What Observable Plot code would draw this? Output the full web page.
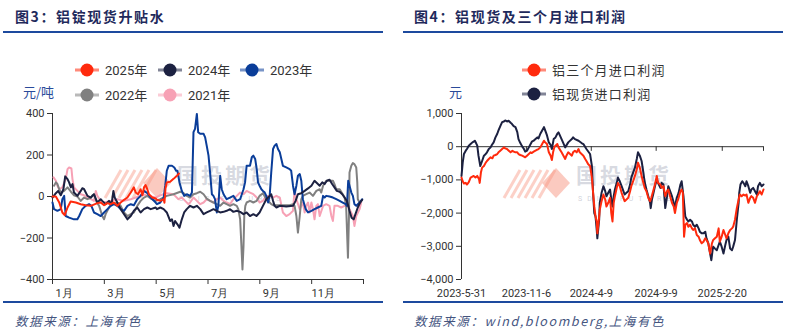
<!DOCTYPE html>
<html><head><meta charset="utf-8">
<script src="https://cdn.jsdelivr.net/npm/d3@7"></script>
<script src="https://cdn.jsdelivr.net/npm/@observablehq/plot@0.6"></script>
<style>
body{margin:0;background:#fff;}
#wrap{position:relative;width:792px;height:332px;overflow:hidden;font-family:"Noto Sans CJK SC",sans-serif;}
.abs{position:absolute;white-space:nowrap;}
.title{font-weight:bold;font-size:14px;letter-spacing:1.6px;color:#1f2a5c;top:6px;}
.hr{position:absolute;height:2px;background:#1d4a9e;}
.cap{font-style:italic;font-size:12.5px;letter-spacing:1.6px;color:#45557f;top:311px;}
.unit{font-size:13px;color:#2a4a9a;top:82px;}
.wm{font-size:21px;line-height:21px;height:21px;letter-spacing:3px;font-weight:bold;color:rgba(160,166,182,0.42);top:164px;}
.wm2{font-size:7px;line-height:7px;height:7px;letter-spacing:5px;color:rgba(160,166,182,0.5);top:196px;font-family:Roboto,sans-serif;}
svg.plot{position:absolute;top:0;}
</style></head>
<body><div id="wrap"></div>
<script>
// ---------- Left chart: 铝锭现货升贴水 (x = months since 1 Jan, y = 元/吨) ----------
const monthLabels = ["1月","3月","5月","7月","9月","11月"];
const leftYTicks = [-400,-200,0,200,400];
const seriesNames = ["2025年","2024年","2023年","2022年","2021年"];
const s2025 = [[0,0],[0.13,0],[0.26,-29],[0.38,-77],[0.47,-90],[0.58,-53],[0.70,-24],[0.90,-29],[1.09,-37],[1.28,-42],[1.48,-45],[1.73,-32],[1.86,-29],[1.99,-42],[2.12,-32],[2.24,-37],[2.37,-29],[2.50,-45],[2.63,-29],[2.76,-16],[2.89,-5],[3.02,19],[3.14,44],[3.21,19],[3.30,11],[3.40,35],[3.47,6],[3.53,44],[3.59,55],[3.66,35],[3.72,11],[3.85,-5],[3.98,-10],[4.03,-16],[4.16,-21],[4.29,-13],[4.32,-30],[4.36,40],[4.41,68],[4.54,71],[4.67,85],[4.80,100],[4.88,111]];
const s2024 = [[0,-5],[0.13,16],[0.22,27],[0.32,6],[0.42,35],[0.49,97],[0.58,84],[0.64,68],[0.71,44],[0.77,60],[0.83,19],[0.96,3],[1.09,27],[1.15,40],[1.22,35],[1.35,3],[1.48,-5],[1.60,11],[1.73,-29],[1.86,-13],[1.92,-21],[2.05,-37],[2.18,-21],[2.28,-37],[2.35,27],[2.40,-5],[2.50,-29],[2.63,-61],[2.76,-85],[2.89,-110],[3.02,-94],[3.14,-69],[3.27,-53],[3.40,-77],[3.53,-61],[3.66,-53],[3.79,-61],[3.98,-53],[4.03,-61],[4.16,-53],[4.29,-61],[4.41,-77],[4.54,-118],[4.61,-110],[4.67,-142],[4.73,-118],[4.82,-134],[4.90,-150],[4.99,-110],[5.08,-77],[5.18,-61],[5.31,-45],[5.44,-53],[5.57,-45],[5.70,-61],[5.83,-85],[5.95,-77],[6.08,-69],[6.21,-61],[6.34,-69],[6.47,-77],[6.60,-74],[6.72,-69],[6.85,-61],[6.98,-74],[7.11,-69],[7.24,-74],[7.37,-85],[7.49,-77],[7.62,-94],[7.75,-85],[7.87,-94],[7.99,-77],[8.12,-45],[8.25,-13],[8.38,3],[8.44,11],[8.51,-21],[8.57,-45],[8.64,-53],[8.77,-45],[9.02,-48],[9.28,-45],[9.38,-21],[9.47,11],[9.60,16],[9.73,27],[9.86,39],[9.99,52],[10.11,76],[10.20,65],[10.31,52],[10.41,68],[10.50,60],[10.59,76],[10.69,81],[10.79,60],[10.88,44],[10.97,27],[11.08,23],[11.18,11],[11.27,-5],[11.36,-21],[11.46,-69],[11.54,-102],[11.62,-110],[11.69,-85],[11.78,-53],[11.87,-29],[11.95,-16]];
const s2023 = [[0,-29],[0.06,-61],[0.19,-69],[0.32,-61],[0.38,-13],[0.45,3],[0.51,-94],[0.64,-102],[0.83,-110],[0.96,-110],[1.03,-94],[1.15,-61],[1.28,-45],[1.41,-37],[1.50,-45],[1.60,-77],[1.73,-85],[1.86,-94],[1.99,-77],[2.12,-61],[2.25,-45],[2.37,-37],[2.50,-45],[2.63,-61],[2.76,-69],[2.89,-45],[3.02,-37],[3.14,-42],[3.27,-13],[3.40,3],[3.53,27],[3.66,16],[3.79,-5],[3.98,-29],[4.03,-37],[4.16,-29],[4.29,-5],[4.35,52],[4.41,124],[4.48,148],[4.61,148],[4.70,140],[4.77,124],[4.82,124],[4.90,68],[4.99,27],[5.08,3],[5.18,11],[5.31,3],[5.38,19],[5.44,310],[5.50,326],[5.57,398],[5.62,310],[5.70,302],[5.83,302],[5.89,285],[5.95,245],[6.02,197],[6.08,116],[6.15,11],[6.21,3],[6.27,-13],[6.34,-77],[6.40,-45],[6.47,100],[6.53,35],[6.60,11],[6.72,-13],[6.85,-5],[6.98,3],[7.11,-21],[7.24,-13],[7.37,35],[7.43,68],[7.49,148],[7.62,148],[7.69,189],[7.75,197],[7.82,181],[7.88,132],[7.93,68],[7.99,52],[8.06,35],[8.12,27],[8.19,19],[8.25,3],[8.32,-29],[8.38,3],[8.44,116],[8.51,229],[8.57,245],[8.64,253],[8.70,229],[8.77,213],[8.83,181],[8.89,148],[9.02,140],[9.15,132],[9.21,124],[9.28,52],[9.34,11],[9.41,52],[9.47,100],[9.54,108],[9.60,76],[9.66,-13],[9.77,-61],[9.86,-77],[9.99,-69],[10.11,-61],[10.24,-53],[10.37,-45],[10.44,3],[10.50,-5],[10.56,3],[10.69,0],[10.82,-5],[10.95,-13],[11.08,-21],[11.20,-29],[11.31,-37],[11.36,-45],[11.41,76],[11.46,52],[11.53,19],[11.59,3],[11.65,-37],[11.72,-45],[11.85,-29],[11.95,-13]];
const s2022 = [[0.06,52],[0.13,68],[0.19,60],[0.26,35],[0.32,19],[0.45,27],[0.58,44],[0.71,23],[0.83,6],[0.96,0],[1.09,-21],[1.22,-5],[1.35,-13],[1.48,-5],[1.54,6],[1.60,11],[1.71,-29],[1.80,-45],[1.92,-94],[1.99,-110],[2.05,-85],[2.18,-53],[2.31,-29],[2.37,-37],[2.50,-29],[2.63,-45],[2.76,-77],[2.89,-94],[3.02,-85],[3.14,-77],[3.27,-45],[3.40,-21],[3.53,-5],[3.66,3],[3.79,-10],[3.98,-21],[4.16,-13],[4.41,3],[4.67,11],[4.93,23],[5.06,16],[5.18,3],[5.31,-5],[5.44,11],[5.57,16],[5.70,23],[5.83,11],[5.95,-10],[6.08,-21],[6.21,-29],[6.34,-37],[6.47,-45],[6.60,-29],[6.72,-37],[6.85,-45],[6.98,-37],[7.11,-45],[7.17,-61],[7.24,-110],[7.29,-239],[7.33,-352],[7.37,-239],[7.40,-94],[7.44,-45],[7.49,-29],[7.62,-21],[7.75,-29],[7.88,-21],[7.99,3],[8.12,16],[8.25,-13],[8.38,-29],[8.44,-37],[8.51,-42],[8.64,-42],[8.89,-42],[9.15,-42],[9.28,-37],[9.34,-45],[9.41,-94],[9.47,-174],[9.54,-94],[9.60,-13],[9.66,3],[9.79,11],[9.92,19],[10.05,3],[10.18,27],[10.31,35],[10.37,19],[10.44,52],[10.56,76],[10.69,76],[10.82,76],[10.88,60],[10.95,35],[11.08,35],[11.20,11],[11.27,-5],[11.33,-45],[11.40,-295],[11.44,-94],[11.46,116],[11.53,148],[11.59,161],[11.65,156],[11.72,140],[11.76,68],[11.78,-13],[11.85,-29]];
const s2021 = [[0.04,92],[0.13,76],[0.19,52],[0.26,35],[0.38,44],[0.51,84],[0.58,132],[0.64,140],[0.73,135],[0.77,84],[0.83,44],[0.96,27],[1.09,11],[1.22,6],[1.35,-5],[1.48,-13],[1.60,-21],[1.67,27],[1.73,3],[1.86,-21],[1.99,-29],[2.25,-21],[2.50,-13],[2.76,-21],[3.02,-13],[3.21,-5],[3.47,11],[3.72,3],[3.98,-5],[4.16,6],[4.41,16],[4.67,11],[4.73,3],[4.86,-13],[4.99,-5],[5.12,-21],[5.25,-37],[5.31,-29],[5.44,-5],[5.57,-21],[5.70,-37],[5.83,-29],[5.95,-13],[6.08,-21],[6.21,-29],[6.34,-13],[6.47,-5],[6.60,-21],[6.72,-29],[6.85,-37],[6.98,-13],[7.11,3],[7.24,19],[7.37,11],[7.49,27],[7.62,19],[7.75,11],[7.88,-5],[7.99,-29],[8.12,-21],[8.25,3],[8.38,3],[8.51,-5],[8.64,3],[8.77,-5],[8.89,-77],[9.02,-94],[9.15,-85],[9.28,-69],[9.34,35],[9.41,-13],[9.54,-61],[9.66,-29],[9.73,-77],[9.79,-45],[9.86,-29],[9.92,-77],[9.99,-29],[10.05,-61],[10.11,-110],[10.18,-45],[10.24,-37],[10.31,-94],[10.44,-45],[10.56,-37],[10.69,-45],[10.76,-94],[10.82,-118],[10.88,-45],[11.01,-45],[11.14,-53],[11.27,-45],[11.40,-45],[11.46,-61],[11.59,-94],[11.65,-142],[11.72,-94],[11.85,-61],[11.91,-29]];

// ---------- Right chart: 铝现货及三个月进口利润 (x = trading-day index, y = 元) ----------
const rightTickIdx = [0,107,214,321,430];
const rightTickLabels = ["2023-5-31","2023-11-6","2024-4-9","2024-9-9","2025-2-20"];
const rightEndIdx = 498;
const rightYTicks = [-4000,-3000,-2000,-1000,0,1000];
const rightNames = ["铝三个月进口利润","铝现货进口利润"];
const spotProfit = [[0,-880],[2,-480],[4,-220],[7,-120],[9,-70],[12,30],[15,80],[18,130],[20,150],[22,180],[24,110],[26,30],[28,-270],[31,-580],[34,-430],[37,-270],[40,-220],[42,-170],[45,-70],[48,-20],[50,50],[53,130],[56,280],[59,390],[61,490],[64,620],[67,740],[70,760],[72,790],[75,760],[78,780],[81,720],[83,690],[86,620],[89,590],[92,440],[94,230],[97,110],[100,10],[103,-70],[105,-150],[108,-120],[111,-20],[114,80],[116,150],[119,180],[122,230],[125,280],[127,250],[130,390],[133,490],[136,590],[138,490],[141,340],[144,130],[147,50],[149,-70],[152,230],[155,280],[158,390],[160,430],[165,230],[171,-20],[176,130],[182,230],[184,280],[187,230],[193,180],[198,110],[201,80],[206,-70],[212,-220],[215,-580],[217,-1400],[219,-2000],[221,-2100],[223,-2510],[224,-2760],[227,-2200],[228,-1690],[231,-1390],[234,-1190],[237,-1340],[239,-1490],[242,-1390],[245,-1290],[247,-1590],[249,-1800],[251,-1490],[253,-1290],[256,-1090],[258,-930],[261,-1040],[264,-1190],[267,-1340],[269,-1440],[272,-1390],[275,-1340],[278,-1140],[280,-930],[283,-780],[286,-630],[289,-370],[291,-170],[294,-270],[297,-430],[300,-790],[301,-930],[303,-1140],[305,-1290],[308,-1490],[311,-1690],[312,-1850],[314,-1590],[316,-1440],[319,-1190],[322,-990],[324,-1090],[328,-1240],[330,-1090],[333,-1140],[336,-1850],[339,-1490],[341,-1190],[344,-1340],[347,-1490],[350,-1690],[352,-1800],[355,-1540],[358,-1390],[361,-1140],[363,-1040],[366,-1490],[369,-2100],[372,-2200],[374,-2250],[377,-2200],[380,-2250],[382,-2350],[385,-2410],[388,-2350],[391,-2460],[393,-2560],[396,-2610],[399,-2610],[402,-2560],[404,-2760],[407,-2910],[410,-3220],[412,-3420],[414,-3120],[415,-3010],[418,-3070],[421,-3120],[424,-2960],[426,-2860],[429,-3010],[432,-3220],[435,-2960],[437,-2810],[440,-2710],[443,-3070],[446,-3120],[448,-3010],[451,-2810],[454,-2200],[457,-1690],[458,-1390],[460,-1140],[463,-1040],[465,-1090],[468,-1190],[470,-1040],[473,-1190],[476,-1390],[478,-1290],[481,-1240],[484,-1340],[487,-1440],[489,-1190],[492,-1090],[495,-1190],[498,-1140]];
const threeMonthProfit = [[0,-930],[2,-1040],[4,-1110],[7,-1090],[9,-1140],[12,-1070],[15,-930],[18,-900],[20,-880],[23,-930],[26,-880],[29,-980],[30,-1090],[32,-780],[34,-630],[37,-580],[40,-480],[42,-430],[45,-370],[48,-320],[51,-350],[53,-270],[56,-250],[59,-220],[61,-170],[64,-120],[67,-70],[70,-20],[72,-50],[75,-70],[78,-120],[81,-170],[84,-120],[86,-150],[89,-170],[92,-170],[94,-220],[97,-250],[100,-270],[103,-300],[105,-320],[108,-270],[111,-220],[114,-170],[116,-190],[119,-150],[122,-120],[125,-90],[127,-70],[130,-20],[133,80],[136,180],[138,130],[141,80],[144,-170],[147,-270],[149,-400],[151,-170],[153,-20],[155,30],[158,80],[160,-20],[165,-170],[171,-370],[173,-270],[176,-170],[179,-220],[182,-270],[184,-170],[187,-120],[190,-170],[193,-70],[195,-170],[198,-220],[201,-270],[204,-370],[206,-430],[209,-530],[212,-580],[215,-930],[217,-1390],[219,-1800],[221,-2100],[223,-2250],[224,-2610],[227,-2100],[228,-1900],[231,-1640],[234,-1440],[237,-1590],[239,-1800],[242,-1690],[245,-1540],[247,-2000],[249,-2250],[251,-1690],[253,-1490],[256,-1240],[258,-1090],[261,-1190],[264,-1390],[267,-1540],[269,-1640],[272,-1590],[275,-1540],[278,-1340],[280,-1190],[283,-1040],[286,-880],[289,-680],[291,-480],[294,-630],[297,-880],[300,-1090],[302,-1240],[305,-1340],[308,-1540],[311,-1640],[313,-1540],[316,-1340],[319,-1140],[322,-880],[324,-1090],[328,-1140],[330,-1240],[333,-1190],[336,-1490],[339,-1340],[341,-1290],[344,-1490],[347,-1690],[350,-1800],[352,-2000],[355,-1690],[358,-1540],[361,-1340],[363,-1290],[365,-1390],[367,-2710],[369,-2350],[372,-2300],[374,-2410],[377,-2350],[380,-2460],[382,-2510],[385,-2460],[388,-2660],[391,-2710],[393,-2810],[396,-2910],[399,-2860],[402,-2760],[404,-2810],[407,-2910],[410,-3220],[413,-2910],[415,-2810],[418,-2760],[421,-2710],[424,-2460],[426,-2860],[429,-2710],[432,-2510],[435,-2660],[437,-2760],[440,-2610],[443,-2510],[446,-2460],[448,-2410],[451,-2200],[454,-1850],[457,-1590],[459,-1440],[462,-1490],[465,-1440],[468,-1470],[470,-1440],[473,-1690],[476,-1540],[478,-1490],[481,-1540],[484,-1690],[487,-1490],[489,-1440],[492,-1340],[495,-1440],[498,-1290]];

const leftColors = {"2025年":"#ff2a0d","2024年":"#1c2141","2023年":"#0a3d99","2022年":"#808080","2021年":"#f7a1b5"};
const leftData = {"2025年":s2025,"2024年":s2024,"2023年":s2023,"2022年":s2022,"2021年":s2021};
const rightColors = ["#ff2a0d","#1c2141"];

const wrap = document.getElementById("wrap");
function add(html){ wrap.insertAdjacentHTML("beforeend", html); }

// decorations behind plots
function watermark(cx, tx){
  add(`<svg class="abs" style="left:${cx-58}px;top:166px" width="80" height="36">
    ${[0,1,2,3,4,5].map(i=>`<line x1="${6+i*7}" y1="32" x2="${22+i*7}" y2="${4}" stroke="rgba(248,150,130,0.45)" stroke-width="3"/>`).join("")}
    <polygon points="58,2 72,17 58,32 44,17" fill="rgba(248,150,130,0.5)"/></svg>`);
  add(`<div class="abs wm" style="left:${tx}px">国投期货</div>`);
  add(`<div class="abs wm2" style="left:${tx+2}px">SDIC FUTURES</div>`);
}
watermark(157,177); watermark(556,576);

const axisStyle = {fontFamily:"Roboto, 'DejaVu Sans', sans-serif", fontSize:"11px", color:"#333", background:"transparent", overflow:"visible"};

const leftOrder = ["2021年","2022年","2023年","2024年","2025年"];
const left = Plot.plot({
  width:396, height:332, marginLeft:52, marginRight:33, marginTop:113, marginBottom:53,
  x:{domain:[0,12]}, y:{domain:[-400,400]},
  style:axisStyle,
  marks:[
    Plot.axisY({ticks:leftYTicks, tickSize:5, tickPadding:3, label:null}),
    Plot.axisX({ticks:d3.range(0,13,2), tickSize:5, tickFormat:()=>"", label:null}),
    Plot.axisX({ticks:d3.range(0,11,2), tickSize:0, tickPadding:10, dx:11.6, tickFormat:d=>monthLabels[d/2], label:null}),
    Plot.ruleY([-400],{stroke:"#333"}),
    Plot.ruleX([0],{stroke:"#333"}),
    ...leftOrder.map(k=>Plot.line(leftData[k],{x:d=>d[0], y:d=>d[1], stroke:leftColors[k], strokeWidth:2}))
  ]
});
left.classList.add("plot"); left.style.left="0px";
wrap.appendChild(left);

const right = Plot.plot({
  width:396, height:332, marginLeft:65, marginRight:29, marginTop:113, marginBottom:53,
  x:{domain:[0,rightEndIdx]}, y:{domain:[-4000,1000]},
  style:axisStyle,
  marks:[
    Plot.axisY({ticks:rightYTicks, tickSize:5, tickPadding:3, tickFormat:d3.format(","), label:null}),
    Plot.axisX({ticks:rightTickIdx, tickSize:0, tickPadding:10, tickFormat:d=>rightTickLabels[rightTickIdx.indexOf(d)], label:null}),
    Plot.ruleX([0],{stroke:"#333"}),
    Plot.ruleY([0],{stroke:"#333"}),
    Plot.ruleX([...rightTickIdx.slice(1), rightEndIdx],{y1:0, y2:-140, stroke:"#333"}),
    Plot.line(spotProfit,{x:d=>d[0], y:d=>d[1], stroke:rightColors[1], strokeWidth:2}),
    Plot.line(threeMonthProfit,{x:d=>d[0], y:d=>d[1], stroke:rightColors[0], strokeWidth:2})
  ]
});
right.classList.add("plot"); right.style.left="396px";
wrap.appendChild(right);

// titles, rules, captions, units
add(`<div class="abs title" style="left:15px">图3：铝锭现货升贴水</div>`);
add(`<div class="abs title" style="left:414px">图4：铝现货及三个月进口利润</div>`);
add(`<div class="hr" style="left:3px;width:380px;top:31px"></div>`);
add(`<div class="hr" style="left:403px;width:380px;top:31px"></div>`);
add(`<div class="hr" style="left:3px;width:380px;top:301px"></div>`);
add(`<div class="hr" style="left:403px;width:380px;top:301px"></div>`);
add(`<div class="abs cap" style="left:15px">数据来源：上海有色</div>`);
add(`<div class="abs cap" style="left:414px">数据来源：wind,bloomberg,上海有色</div>`);
add(`<div class="abs unit" style="left:23px">元/吨</div>`);
add(`<div class="abs unit" style="left:449px">元</div>`);

// legends
function legendItem(cx, cy, color, label, spacing){
  return `<line x1="${cx-12}" y1="${cy}" x2="${cx+12}" y2="${cy}" stroke="${color}" stroke-opacity="0.55" stroke-width="3"/>
  <circle cx="${cx}" cy="${cy}" r="6.5" fill="${color}"/>
  <text x="${cx+18}" y="${cy}" dy="0.35em" fill="#333" font-size="13" letter-spacing="${spacing}" font-family="Roboto,'Noto Sans CJK SC',sans-serif">${label}</text>`;
}
const legPos = [[87,70],[170,70],[252,70],[87,95],[170,95]];
add(`<svg class="abs" style="left:0;top:0" width="396" height="110">${seriesNames.map((n,i)=>legendItem(legPos[i][0],legPos[i][1],leftColors[n],n,0)).join("")}</svg>`);
add(`<svg class="abs" style="left:396px;top:0" width="396" height="110">${rightNames.map((n,i)=>legendItem(138,[70,94][i],rightColors[i],n,1.2)).join("")}</svg>`);
</script></body></html>
